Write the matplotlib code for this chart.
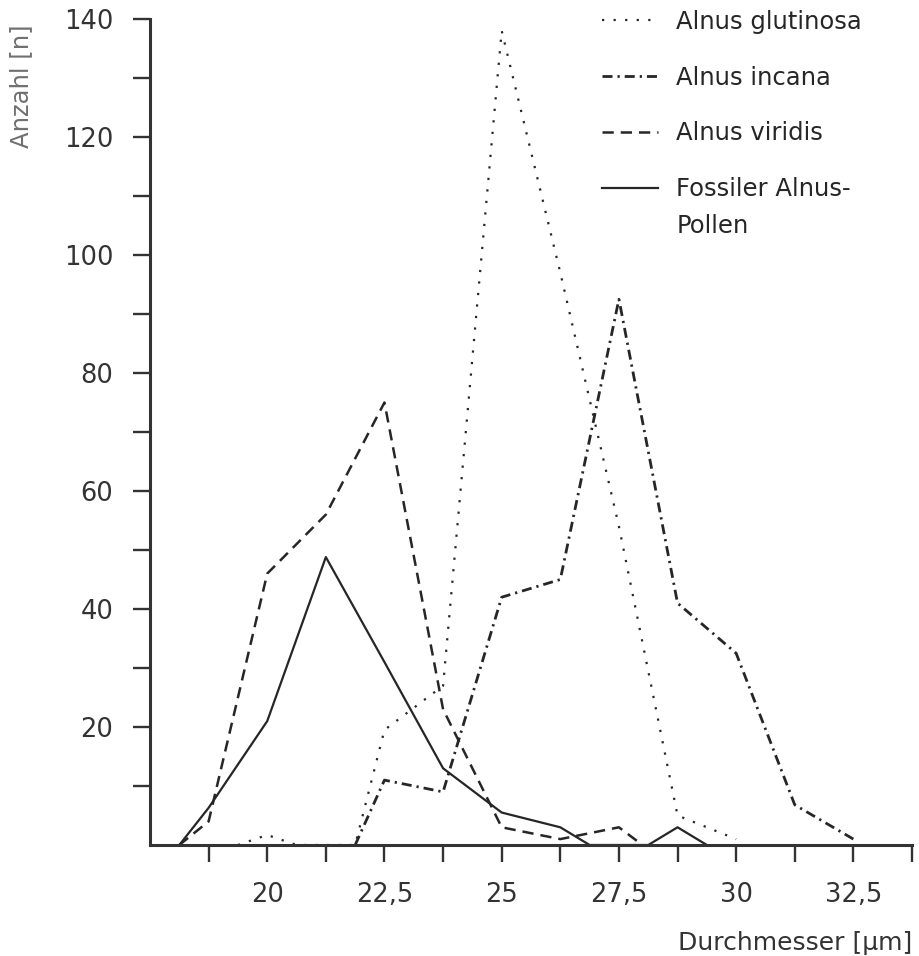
import numpy as np
import matplotlib
matplotlib.use("Agg")
import matplotlib.pyplot as plt
from matplotlib.legend_handler import HandlerLine2D

plt.rcParams['font.family'] = ['DejaVu Sans']

# ---- data ----
glut_x = [19.375, 20, 20.625, 21.875, 22.5, 23.75, 25, 26.25, 27.5, 28.75, 30]
glut_y = [0, 1.7, 0, 0, 19.5, 27, 138, 97, 54, 5, 1]

incana_x = [21.875, 22.5, 23.75, 25, 26.25, 27.5, 28.75, 30, 31.25, 32.5]
incana_y = [0, 11, 9, 42, 45, 92.5, 41, 32.5, 6.8, 1]

viridis_x = [18.125, 18.75, 20, 21.25, 22.5, 23.75, 25, 26.25, 27.5, 28.0]
viridis_y = [0, 4, 46, 56, 75, 23, 3, 1, 3, 0]

fossil_x = [18.125, 18.75, 20, 21.25, 22.5, 23.75, 25, 26.25, 26.875, 28.125, 28.75, 29.375]
fossil_y = [0, 6.3, 21, 48.8, 31, 13, 5.5, 3, 0, 0, 3, 0]

labels = ["Alnus glutinosa", "Alnus incana", "Alnus viridis", "Fossiler Alnus-\nPollen"]

xtick_major = [20, 22.5, 25, 27.5, 30, 32.5]
xtick_labels = ["20", "22,5", "25", "27,5", "30", "32,5"]
xtick_minor = [18.75, 21.25, 23.75, 26.25, 28.75, 31.25, 33.75]
ytick_major = [20, 40, 60, 80, 100, 120, 140]
ytick_minor = [10, 30, 50, 70, 90, 110, 130]

# ---- figure ----
W, H = 920, 956
fig = plt.figure(figsize=(W / 100, H / 100), dpi=100)
ax = fig.add_axes([150 / W, 1 - 845 / H, (912 - 150) / W, (845 - 19) / H])

ink = '#262626'
l1, = ax.plot(glut_x, glut_y, color=ink, lw=1.6, linestyle=(0, (1, 4.2)))
l2, = ax.plot(incana_x, incana_y, color=ink, lw=2.0, linestyle=(0, (3.6, 1.8, 0.8, 1.8)))
l3, = ax.plot(viridis_x, viridis_y, color=ink, lw=1.8, linestyle=(0, (4.5, 2.8)))
l4, = ax.plot(fossil_x, fossil_y, color=ink, lw=1.6, linestyle='-')

ax.set_xlim(17.5, 33.75)
ax.set_ylim(0, 140)

for s in ['top', 'right']:
    ax.spines[s].set_visible(False)
for s in ['left', 'bottom']:
    ax.spines[s].set_color('#333333')
    ax.spines[s].set_linewidth(2.2)

ax.set_xticks(xtick_major)
ax.set_xticklabels(xtick_labels)
ax.set_xticks(xtick_minor, minor=True)
ax.set_yticks(ytick_major)
ax.set_yticks(ytick_minor, minor=True)

tick_kw = dict(length=12.5, width=1.7, color='#333333', direction='out')
ax.tick_params(axis='both', which='both', **tick_kw)
ax.tick_params(axis='x', which='major', pad=14, labelsize=18.5, labelcolor='#333333')
ax.tick_params(axis='y', which='major', pad=14, labelsize=18.5, labelcolor='#333333')

fig.text(21 / W, 1 - 86 / H, "Anzahl [n]", rotation=90, ha='center', va='center',
         fontsize=17.5, color='#707070')
fig.text(912 / W, 1 - 943 / H, "Durchmesser [µm]", ha='right', va='center',
         fontsize=18, color='#333333')


class FirstLineHandler(HandlerLine2D):
    def __init__(self, shift=0.0, **kw):
        super().__init__(**kw)
        self.shift = shift

    def create_artists(self, legend, orig_handle, xdescent, ydescent, width,
                       height, fontsize, trans):
        arts = super().create_artists(legend, orig_handle, xdescent, ydescent,
                                      width, height, fontsize, trans)
        for a in arts:
            a.set_ydata(np.asarray(a.get_ydata()) + self.shift * fontsize)
        return arts


leg = fig.legend([l1, l2, l3, l4], labels, loc='upper left',
                 bbox_to_anchor=(602 / W, 1 - 10 / H), frameon=False,
                 fontsize=17.5, handlelength=2.3, handletextpad=0.75,
                 labelspacing=1.3, borderpad=0, borderaxespad=0,
                 handler_map={l4: FirstLineHandler(shift=0.85)})
for t in leg.get_texts():
    t.set_color('#262626')
leg.get_texts()[3].set_linespacing(1.7)

fig.savefig("out.png", dpi=100)
